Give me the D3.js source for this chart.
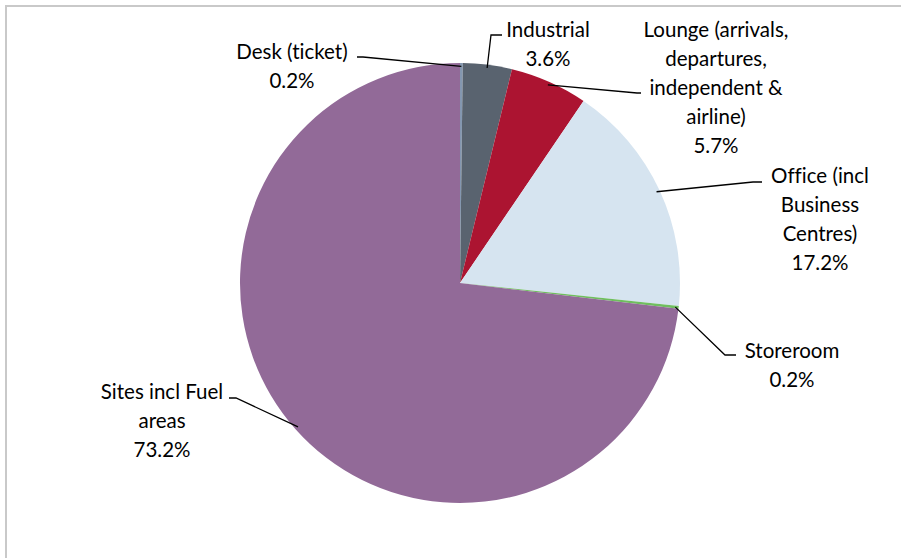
<!DOCTYPE html>
<html>
<head>
<meta charset="utf-8">
<script src="https://cdn.jsdelivr.net/npm/d3@7"></script>
<style>
  html, body { margin: 0; padding: 0; background: #fff; }
  svg { display: block; }
  text { font-family: Lato, "Open Sans", sans-serif; fill: #000; font-variant-ligatures: none; }
</style>
</head>
<body>
<svg id="chart" width="901" height="558"></svg>
<script>
// Share of floor space by use type (percent)
const categories = [
  "Desk (ticket)",
  "Industrial",
  "Lounge (arrivals, departures, independent & airline)",
  "Office (incl Business Centres)",
  "Storeroom",
  "Sites incl Fuel areas"
];
const values = [0.2, 3.6, 5.7, 17.2, 0.2, 73.2];
const colors = ["#8497b0", "#59636f", "#ac1431", "#d6e4f0", "#6fbe5f", "#926a98"];

// Wrapped label lines for each category
const labelLines = [
  ["Desk (ticket)"],
  ["Industrial"],
  ["Lounge (arrivals,", "departures,", "independent &", "airline)"],
  ["Office (incl", "Business", "Centres)"],
  ["Storeroom"],
  ["Sites incl Fuel", "areas"]
];

const W = 901, H = 558;
const cx = 460, cy = 283, R = 220;
const lineH = 29;

// Label block placement: centre x, first baseline y, elbow point, leader end (next to text)
const labelLayout = [
  { x: 292, y: 59,  elbow: [363, 57],  end: [357, 57] },
  { x: 548, y: 37,  elbow: [491, 35],  end: [502, 35] },
  { x: 716, y: 37,  elbow: [637, 93],  end: [641, 93] },
  { x: 820, y: 183, elbow: [753, 182], end: [762, 182] },
  { x: 792, y: 358, elbow: [725, 355], end: [736, 355] },
  { x: 162, y: 399, elbow: [236, 398], end: [229, 398] }
];

const svg = d3.select("#chart");

// Outer frame
svg.append("rect")
  .attr("x", 6).attr("y", 6)
  .attr("width", W + 20).attr("height", H + 20)
  .attr("fill", "#fff")
  .attr("stroke", "#c9c9c9")
  .attr("stroke-width", 2);

const data = categories.map((c, i) => ({ name: c, value: values[i], color: colors[i], lines: labelLines[i], layout: labelLayout[i] }));

const pie = d3.pie().value(d => d.value).sort(null);
const arcs = pie(data);

const arc = d3.arc().innerRadius(0).outerRadius(R);
const rimArc = d3.arc().innerRadius(R * 0.985).outerRadius(R * 0.985);

const g = svg.append("g").attr("transform", `translate(${cx},${cy})`);

g.selectAll("path.slice")
  .data(arcs)
  .join("path")
  .attr("class", "slice")
  .attr("d", arc)
  .attr("fill", d => d.data.color);

// Leader lines from slice rim to label
const lines = svg.append("g");
arcs.forEach(a => {
  const c = rimArc.centroid(a);
  const start = [cx + c[0], cy + c[1]];
  const L = a.data.layout;
  lines.append("polyline")
    .attr("points", [start, L.elbow, L.end].map(p => p.join(",")).join(" "))
    .attr("fill", "none")
    .attr("stroke", "#000")
    .attr("stroke-width", 1.3);
});

// Labels: category lines followed by percent
const fmt = v => d3.format(".1f")(v) + "%";
const labels = svg.append("g");
arcs.forEach(a => {
  const L = a.data.layout;
  const all = a.data.lines.concat([fmt(a.data.value)]);
  const t = labels.append("text")
    .attr("text-anchor", "middle")
    .attr("font-size", 20.5);
  all.forEach((s, i) => {
    t.append("tspan")
      .attr("x", L.x)
      .attr("y", L.y + i * lineH)
      .text(s);
  });
});
</script>
</body>
</html>
